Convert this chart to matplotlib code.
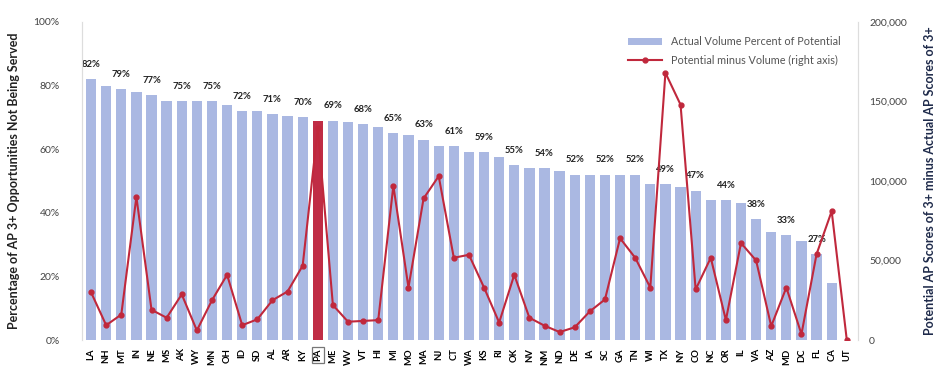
import numpy as np
import matplotlib.pyplot as plt
from matplotlib.ticker import FuncFormatter

plt.rcParams['font.family'] = ['Lato', 'DejaVu Sans']

states = ["LA", "NH", "MT", "IN", "NE", "MS", "AK", "WY", "MN", "OH",
          "ID", "SD", "AL", "AR", "KY", "PA", "ME", "WV", "VT", "HI",
          "MI", "MO", "MA", "NJ", "CT", "WA", "KS", "RI", "OK", "NV",
          "NM", "ND", "DE", "IA", "SC", "GA", "TN", "WI", "TX", "NY",
          "CO", "NC", "OR", "IL", "VA", "AZ", "MD", "DC", "FL", "CA", "UT"]

# share of AP 3+ opportunities not being served (%)
pct_unserved = [82, 80, 79, 78, 77, 75, 75, 75, 75, 74,
                72, 72, 71, 70.5, 70, 69, 69, 68.5, 68, 67,
                65, 64.5, 63, 61, 61, 59, 59, 57.5, 55, 54,
                54, 53, 52, 52, 52, 52, 52, 49, 49, 48,
                47, 44, 44, 43, 38, 34, 33, 31, 27, 18, 0]

# potential 3+ scores minus actual 3+ scores
gap_volume = [30000, 9300, 16000, 90000, 19000, 14000, 28700, 6000, 25000, 41000,
              9300, 13000, 25000, 30500, 46700, 133000, 22000, 11500, 12000, 12500,
              97000, 33000, 89000, 103000, 51700, 53600, 33000, 11000, 41000, 14000,
              9000, 5000, 8000, 18000, 25500, 64000, 51700, 33000, 168000, 148000,
              31800, 51700, 12500, 61000, 50000, 8700, 33000, 3700, 54000, 81000, 0]

highlight = "PA"

bar_blue = "#aab8e2"
bar_red = "#c02c45"
line_red = "#c0283c"

x = np.arange(len(states))
colors = [bar_red if s == highlight else bar_blue for s in states]

fig = plt.figure(figsize=(9.5, 3.72), dpi=100)
ax = fig.add_axes([0.0863, 0.086, 0.817, 0.855])
ax2 = ax.twinx()

bars = ax.bar(x, pct_unserved, width=0.68, color=colors, zorder=2,
              label="Actual Volume Percent of Potential")
line, = ax2.plot(x, gap_volume, color=line_red, lw=1.5, marker="o", ms=3.5,
                 zorder=3, label="Potential minus Volume (right axis)")

# value labels on every other bar
for i in range(0, len(states) - 1, 2):
    ax.text(x[i], pct_unserved[i] + 3.2, f"{pct_unserved[i]:.0f}%", ha="center",
            va="bottom", fontsize=6.8, fontweight="bold", color="#222222")

ax.set_xlim(-0.6, 50.75)
ax.set_ylim(0, 100)
ax.set_yticks(np.arange(0, 101, 20))
ax.yaxis.set_major_formatter(FuncFormatter(lambda v, p: f"{v:.0f}%"))
ax2.set_ylim(0, 200000)
ax2.set_yticks(np.arange(0, 200001, 50000))
ax2.yaxis.set_major_formatter(FuncFormatter(lambda v, p: f"{v:,.0f}"))

ax.set_xticks(x)
ax.set_xticklabels(states, rotation=90, fontsize=6.8, fontweight="bold")
for lbl in ax.get_xticklabels():
    if lbl.get_text() == highlight:
        lbl.set_bbox(dict(facecolor="white", edgecolor="#777777", lw=0.9, pad=1.2))

ax.tick_params(axis="x", length=0, pad=6)
ax.tick_params(axis="y", length=0, labelsize=7.5, labelcolor="#444444", pad=16)
ax2.tick_params(axis="y", length=0, labelsize=7.5, labelcolor="#444444", pad=8)

for a in (ax, ax2):
    a.spines["top"].set_visible(False)
    a.spines["bottom"].set_visible(False)
    a.spines["left"].set_color("#dddddd")
    a.spines["right"].set_color("#dddddd")

ax.set_ylabel("Percentage of AP 3+ Opportunities Not Being Served", fontsize=9,
              fontweight="bold", color="#222222", labelpad=10)
ax2.set_ylabel("Potential AP Scores of 3+ minus Actual AP Scores of 3+", fontsize=9,
               fontweight="bold", color="#1e2a4a", labelpad=12)

ax.set_zorder(ax2.get_zorder() - 1)
ax.patch.set_visible(False)

leg = ax2.legend([bars, line], [bars.get_label(), line.get_label()],
                 loc="upper right", bbox_to_anchor=(0.99, 0.985), frameon=False,
                 fontsize=7.8, handlelength=3.2, labelspacing=0.7)
for t in leg.get_texts():
    t.set_color("#555555")

fig.savefig("out.png", dpi=100)
